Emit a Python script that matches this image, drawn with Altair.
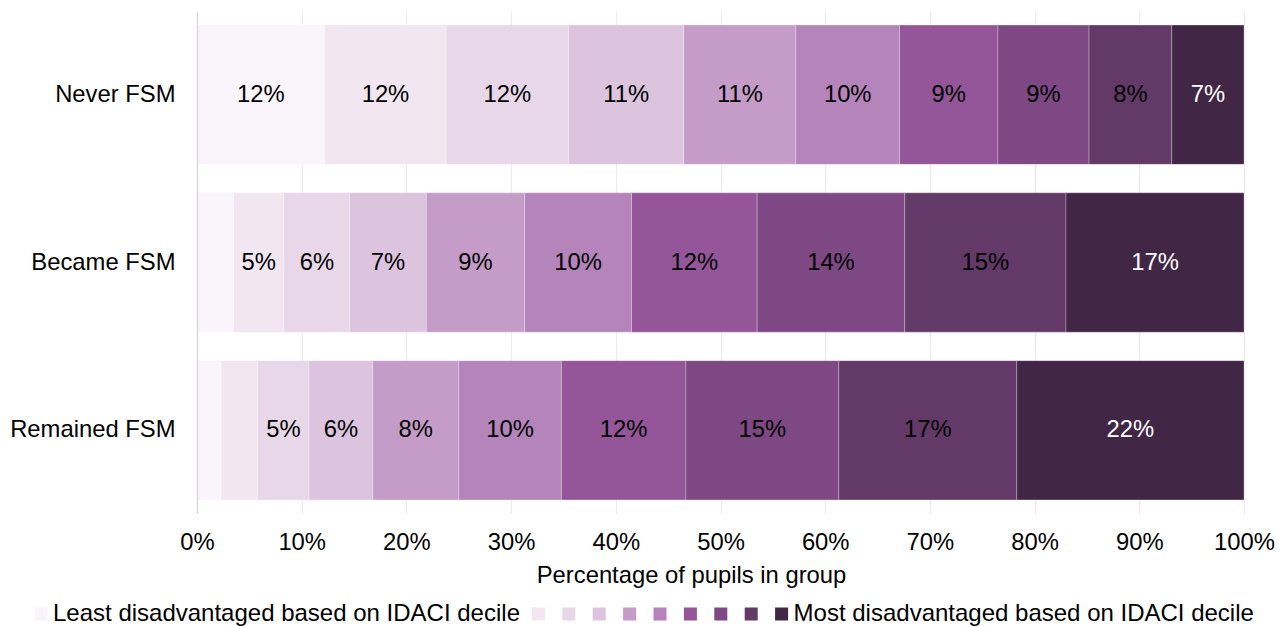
import altair as alt
import pandas as pd

# Pupil groups (top to bottom) and their share in each IDACI decile, in percent
groups = ["Never FSM", "Became FSM", "Remained FSM"]
deciles = [1, 2, 3, 4, 5, 6, 7, 8, 9, 10]
never_fsm = [12.2, 11.6, 11.7, 11.0, 10.7, 9.9, 9.4, 8.7, 7.9, 6.9]
became_fsm = [3.5, 4.8, 6.3, 7.3, 9.4, 10.2, 12.0, 14.1, 15.4, 17.0]
remained_fsm = [2.3, 3.5, 4.9, 6.1, 8.2, 9.8, 11.9, 14.6, 17.0, 21.7]

# Sequential purple palette, least to most disadvantaged
decile_colors = ["#FAF5FA", "#F2E6F1", "#E8D7E9", "#DCC4DF", "#C59CC8",
                 "#B584BB", "#945699", "#7E4884", "#633968", "#412645"]
least_label = "Least disadvantaged based on IDACI decile"
most_label = "Most disadvantaged based on IDACI decile"
x_ticks = [0, 10, 20, 30, 40, 50, 60, 70, 80, 90, 100]

rows = []
for g, vals in zip(groups, [never_fsm, became_fsm, remained_fsm]):
    for d, v in zip(deciles, vals):
        rows.append({"group": g, "decile": d, "value": v})
df = pd.DataFrame(rows)

FONT = "Liberation Sans"
FS = 23.8

base = alt.Chart(df).transform_stack(
    stack="value",
    groupby=["group"],
    as_=["x0", "x1"],
    sort=[alt.SortField("decile", order="ascending")],
)

x_scale = alt.Scale(domain=[0, 100], nice=False)
x_axis = alt.Axis(
    values=x_ticks,
    labelExpr="datum.value + '%'",
    title="Percentage of pupils in group",
    titleFontSize=FS, titleFontWeight="normal", titleColor="black",
    titleX=494, titleY=69, titleAlign="center", titleBaseline="alphabetic",
    labelFontSize=FS, labelColor="black", labelPadding=17, labelFlush=False,
    domain=False, ticks=False, grid=True,
    gridColor="#EBEBEB", gridWidth=1,
)

y_enc = alt.Y(
    "group:N",
    sort=groups,
    title=None,
    scale=alt.Scale(paddingInner=0.17, paddingOuter=0.078),
    axis=alt.Axis(
        labelFontSize=FS, labelPadding=22, ticks=False,
        domainColor="#D9D9D9", domainWidth=1.5, labelColor="black",
    ),
)

legend_expr = (
    f"datum.value == 1 ? '{least_label}' : "
    f"(datum.value == 10 ? '{most_label}' : '')"
)

bars = base.mark_rect(stroke="white", strokeWidth=0.6, strokeOpacity=0.45).encode(
    x=alt.X("x0:Q", scale=x_scale, axis=x_axis),
    x2="x1:Q",
    y=y_enc,
    color=alt.Color(
        "decile:O",
        scale=alt.Scale(domain=deciles, range=decile_colors),
        legend=alt.Legend(
            title=None, orient="none", direction="horizontal", columns=10,
            legendX=-168, legendY=590,
            symbolType="square", symbolSize=169, symbolStrokeWidth=0,
            symbolOpacity=1,
            labelExpr=legend_expr, labelFontSize=24, labelColor="black",
            labelOffset=0, columnPadding=6.4, padding=0, labelLimit=0,
        ),
    ),
)

labels = base.transform_calculate(
    mid="(datum.x0 + datum.x1) / 2",
    label="format(datum.value, '.0f') + '%'",
).transform_filter(
    "datum.value >= 4.5"
).mark_text(fontSize=FS, font=FONT).encode(
    x=alt.X("mid:Q", scale=x_scale, axis=x_axis),
    y=y_enc,
    text=alt.Text("label:N"),
    color=alt.condition(alt.datum.decile == 10, alt.value("white"), alt.value("black")),
)

chart = (
    alt.layer(bars, labels)
    .properties(
        width=1047,
        height=501,
        autosize=alt.AutoSizeParams(type="none"),
        padding={"left": 197, "top": 12, "right": 44, "bottom": 114},
    )
    .configure(font=FONT)
    .configure_view(stroke=None)
)

chart.save("out.html", embed_options={"renderer": "svg", "actions": False})
